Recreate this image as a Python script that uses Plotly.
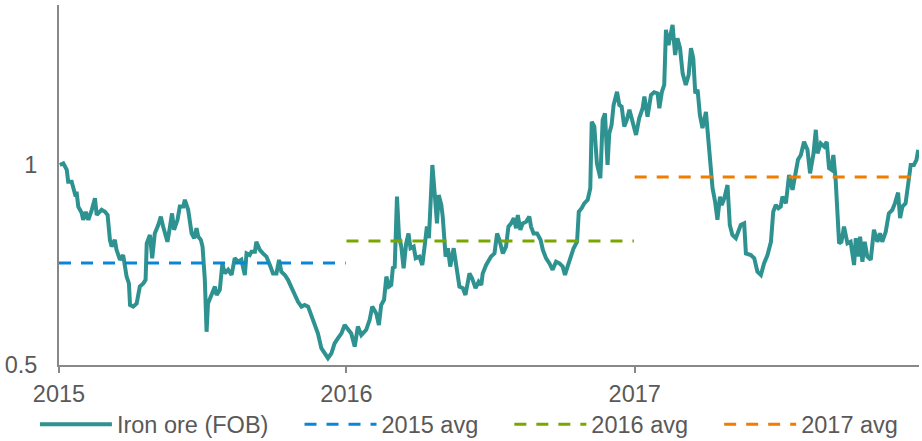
import plotly.graph_objects as go
import pandas as pd

# Iron ore (FOB) index: time in years since 2015-01-01, value
t_years = [0.003, 0.015, 0.027, 0.032, 0.044, 0.050, 0.058, 0.061, 0.067, 0.079, 0.084, 0.093, 0.102, 0.114, 0.125, 0.131, 0.148, 0.160, 0.169, 0.177, 0.183, 0.194, 0.200, 0.212, 0.223, 0.235, 0.243, 0.247, 0.258, 0.270, 0.281, 0.293, 0.301, 0.305, 0.316, 0.324, 0.333, 0.345, 0.354, 0.362, 0.377, 0.385, 0.393, 0.400, 0.412, 0.420, 0.432, 0.4375, 0.449, 0.461, 0.470, 0.478, 0.484, 0.493,
           0.499, 0.507, 0.513, 0.518, 0.530, 0.542, 0.548, 0.559, 0.568, 0.576, 0.588, 0.600, 0.611, 0.623, 0.634, 0.646, 0.652, 0.663, 0.669, 0.681, 0.686, 0.698, 0.709, 0.721, 0.733, 0.744, 0.756, 0.765, 0.773, 0.785, 0.796, 0.808, 0.819, 0.831, 0.843, 0.854, 0.866, 0.877, 0.889, 0.900, 0.912, 0.924, 0.935, 0.947, 0.958, 0.970, 0.982, 0.993, 1.005,
           1.016, 1.028, 1.039, 1.051, 1.068, 1.080, 1.089, 1.103, 1.112, 1.120, 1.130, 1.138, 1.147, 1.155, 1.161, 1.167, 1.175, 1.182, 1.190, 1.198, 1.207, 1.215, 1.222, 1.233, 1.240, 1.253, 1.263, 1.271, 1.279, 1.286, 1.298, 1.306, 1.314, 1.320, 1.329, 1.334, 1.344, 1.352, 1.360, 1.372, 1.381, 1.392, 1.404, 1.413, 1.427, 1.436, 1.448, 1.459, 1.468, 1.473, 1.485,
           1.502, 1.514, 1.523, 1.531, 1.543, 1.554, 1.5625, 1.572, 1.581, 1.589, 1.595, 1.604, 1.612, 1.624, 1.635, 1.641, 1.650, 1.662, 1.674, 1.682, 1.693, 1.705, 1.716, 1.728, 1.740, 1.751, 1.759, 1.768, 1.778, 1.789, 1.801, 1.807, 1.817, 1.826, 1.838, 1.847, 1.852, 1.861, 1.870, 1.882, 1.890, 1.898, 1.907, 1.913, 1.921, 1.928, 1.940, 1.948, 1.956, 1.965, 1.974, 1.983,
           1.994, 2.006, 2.017, 2.029, 2.035, 2.046, 2.058, 2.069, 2.081, 2.087, 2.096, 2.104, 2.110, 2.119, 2.127, 2.133, 2.142, 2.150, 2.159, 2.168, 2.179, 2.189, 2.197, 2.205, 2.212, 2.220, 2.228, 2.237, 2.249, 2.254, 2.260, 2.266, 2.272, 2.281, 2.289, 2.298, 2.304, 2.313, 2.324, 2.332, 2.341, 2.353, 2.370, 2.382, 2.388, 2.405, 2.417, 2.428, 2.440, 2.451, 2.463, 2.475, 2.483, 2.492, 2.501,
           2.509, 2.515, 2.527, 2.538, 2.550, 2.561, 2.569, 2.579, 2.590, 2.602, 2.611, 2.623, 2.631, 2.637, 2.648, 2.660, 2.669, 2.677, 2.685, 2.692, 2.700, 2.712, 2.720, 2.729, 2.741, 2.752, 2.764, 2.770, 2.778, 2.785, 2.793, 2.801, 2.810, 2.822, 2.833, 2.845, 2.854, 2.862, 2.874, 2.885, 2.897, 2.906, 2.917, 2.924, 2.932, 2.943, 2.955, 2.961, 2.972, 2.981, 2.987]
iron_ore = [1.000, 1.004, 0.988, 0.958, 0.958, 0.943, 0.921, 0.933, 0.896, 0.880, 0.863, 0.883, 0.863, 0.888, 0.917, 0.875, 0.888, 0.883, 0.875, 0.813, 0.796, 0.813, 0.788, 0.763, 0.775, 0.721, 0.704, 0.650, 0.646, 0.654, 0.696, 0.704, 0.713, 0.804, 0.825, 0.767, 0.829, 0.850, 0.871, 0.846, 0.808, 0.842, 0.879, 0.838, 0.863, 0.896, 0.896, 0.913, 0.888, 0.829, 0.817, 0.842, 0.821, 0.813,
            0.796, 0.713, 0.583, 0.654, 0.675, 0.696, 0.675, 0.688, 0.754, 0.729, 0.738, 0.725, 0.767, 0.758, 0.763, 0.725, 0.779, 0.775, 0.783, 0.783, 0.808, 0.788, 0.779, 0.771, 0.750, 0.729, 0.729, 0.763, 0.733, 0.725, 0.713, 0.692, 0.679, 0.658, 0.646, 0.650, 0.646, 0.625, 0.604, 0.579, 0.542, 0.529, 0.517, 0.529, 0.554, 0.567, 0.579, 0.600, 0.588,
            0.579, 0.546, 0.596, 0.575, 0.588, 0.613, 0.646, 0.629, 0.600, 0.650, 0.663, 0.721, 0.696, 0.700, 0.746, 0.742, 0.921, 0.821, 0.796, 0.742, 0.804, 0.829, 0.792, 0.796, 0.767, 0.771, 0.750, 0.796, 0.846, 0.817, 1.000, 0.929, 0.854, 0.925, 0.900, 0.871, 0.771, 0.792, 0.746, 0.792, 0.746, 0.696, 0.692, 0.675, 0.729, 0.717, 0.692, 0.708, 0.700, 0.729, 0.750,
            0.771, 0.779, 0.829, 0.813, 0.779, 0.796, 0.846, 0.854, 0.867, 0.842, 0.875, 0.838, 0.854, 0.858, 0.871, 0.846, 0.829, 0.829, 0.813, 0.788, 0.767, 0.754, 0.738, 0.758, 0.754, 0.746, 0.725, 0.746, 0.771, 0.792, 0.808, 0.883, 0.892, 0.904, 0.913, 0.942, 1.108, 1.096, 1.004, 0.967, 1.113, 1.129, 1.000, 1.079, 1.100, 1.150, 1.183, 1.150, 1.146, 1.096, 1.113, 1.138,
            1.108, 1.075, 1.117, 1.142, 1.171, 1.121, 1.175, 1.182, 1.179, 1.142, 1.183, 1.200, 1.338, 1.300, 1.329, 1.350, 1.275, 1.317, 1.292, 1.229, 1.200, 1.225, 1.292, 1.267, 1.179, 1.188, 1.125, 1.092, 1.133, 1.092, 1.042, 1.017, 0.942, 0.908, 0.863, 0.921, 0.900, 0.917, 0.950, 0.850, 0.825, 0.817, 0.850, 0.854, 0.779, 0.775, 0.767, 0.733, 0.725, 0.754, 0.775, 0.808, 0.883, 0.900, 0.892,
            0.896, 0.921, 0.904, 0.975, 0.938, 0.979, 1.013, 1.025, 1.058, 1.038, 0.979, 1.029, 1.088, 1.029, 1.054, 1.046, 1.058, 0.992, 0.988, 1.025, 0.963, 0.804, 0.808, 0.846, 0.804, 0.808, 0.750, 0.817, 0.771, 0.821, 0.758, 0.808, 0.771, 0.763, 0.838, 0.808, 0.829, 0.808, 0.833, 0.879, 0.888, 0.904, 0.931, 0.867, 0.896, 0.904, 0.958, 1.000, 1.000, 1.013, 1.038]

# Annual averages
avg_years = ["2015", "2016", "2017"]
avg_values = [0.755, 0.81, 0.97]
avg_names = ["2015 avg", "2016 avg", "2017 avg"]
avg_colors = ["#0A86D8", "#7AA600", "#F07C00"]

# Axis ticks
y_tickvals = [0.5, 1]
y_ticktext = ["0.5", "1"]
x_tickvals = ["2015-01-01", "2016-01-01", "2017-01-01"]
x_ticktext = ["2015", "2016", "2017"]

start = pd.Timestamp("2015-01-01")
dates = [start + pd.Timedelta(days=t * 365.25) for t in t_years]

PAD = "\u00a0" * 4  # spacing between legend entries

fig = go.Figure()
fig.add_trace(go.Scatter(x=dates, y=iron_ore, mode="lines", name="Iron ore (FOB)" + PAD,
                         line=dict(color="#2E9290", width=4)))
for i, (yr, val, nm, col) in enumerate(zip(avg_years, avg_values, avg_names, avg_colors)):
    label = nm + (PAD if i < len(avg_names) - 1 else "")
    fig.add_trace(go.Scatter(x=[f"{yr}-01-01", f"{yr}-12-31"], y=[val, val], mode="lines", name=label,
                             line=dict(color=col, width=3, dash="12px,10px")))

font_color = "#595959"
FS = 23.5
fig.update_layout(
    width=922, height=441,
    margin=dict(l=59, r=3, t=5, b=76, autoexpand=False),
    paper_bgcolor="white", plot_bgcolor="white",
    font=dict(family="Liberation Sans, Arial, sans-serif", size=FS, color=font_color),
    showlegend=True,
    legend=dict(orientation="h", x=-0.028, xanchor="left", y=-0.165, yanchor="middle",
                font=dict(size=FS, color=font_color), itemwidth=72,
                bgcolor="rgba(0,0,0,0)"),
    xaxis=dict(type="date", range=["2015-01-01", "2017-12-28"],
               tickvals=x_tickvals, ticktext=x_ticktext,
               showgrid=False, zeroline=False, showline=True, linecolor="#888888", linewidth=2,
               ticks="outside", ticklen=6, tickwidth=2, tickcolor="#888888",
               ticklabelstandoff=1, tickfont=dict(size=FS, color=font_color)),
    yaxis=dict(range=[0.5, 1.4], tickvals=y_tickvals, ticktext=y_ticktext,
               showgrid=False, zeroline=False, showline=True, linecolor="#888888", linewidth=2,
               ticks="", ticklabelstandoff=15, tickfont=dict(size=FS, color=font_color)),
)

fig.write_html("out.html", config={"displayModeBar": False},
               post_script="document.body.style.margin='0';")
